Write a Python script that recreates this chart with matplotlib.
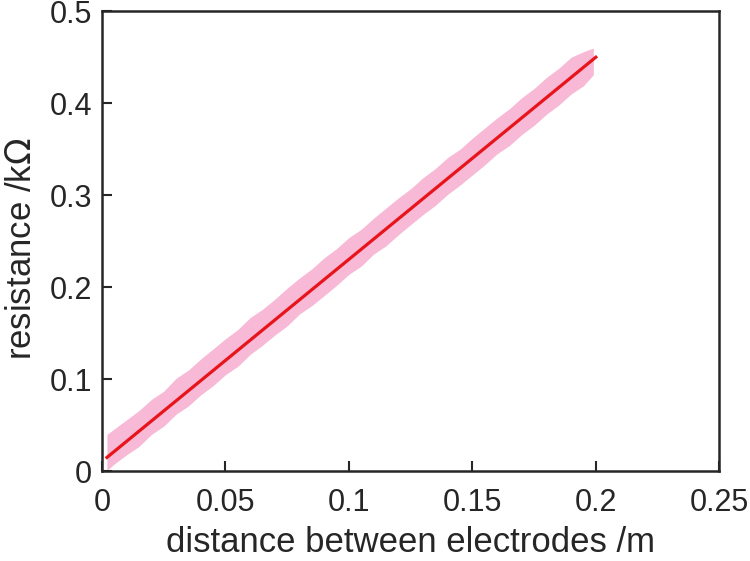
import numpy as np
import matplotlib.pyplot as plt

plt.rcParams['font.family'] = ['Liberation Sans', 'DejaVu Sans']
plt.rcParams['font.size'] = 22

band_x = [0.002, 0.005, 0.01, 0.015, 0.02, 0.025, 0.03, 0.035, 0.04, 0.045, 0.05,
          0.055, 0.06, 0.065, 0.07, 0.075, 0.08, 0.085, 0.09, 0.095, 0.10,
          0.105, 0.11, 0.115, 0.12, 0.125, 0.13, 0.135, 0.14, 0.145, 0.15,
          0.155, 0.16, 0.165, 0.17, 0.175, 0.18, 0.185, 0.19, 0.195, 0.199]
band_lo = [0.001, 0.008, 0.018, 0.027, 0.040, 0.049, 0.062, 0.071, 0.083, 0.093, 0.105,
           0.114, 0.127, 0.137, 0.148, 0.158, 0.171, 0.180, 0.191, 0.202, 0.214,
           0.223, 0.236, 0.245, 0.257, 0.268, 0.279, 0.289, 0.301, 0.311, 0.322,
           0.333, 0.345, 0.354, 0.366, 0.376, 0.388, 0.398, 0.410, 0.419, 0.431]
band_hi = [0.040, 0.046, 0.056, 0.066, 0.078, 0.087, 0.101, 0.110, 0.122, 0.133, 0.144,
           0.154, 0.167, 0.176, 0.187, 0.199, 0.210, 0.220, 0.232, 0.242, 0.254,
           0.263, 0.275, 0.286, 0.297, 0.307, 0.319, 0.329, 0.341, 0.350, 0.362,
           0.373, 0.384, 0.394, 0.406, 0.416, 0.428, 0.438, 0.450, 0.456, 0.460]

# linear fit
fit_x = [0.002, 0.2]
fit_y = [0.015, 0.450]

xticks = [0, 0.05, 0.1, 0.15, 0.2, 0.25]
xticklabels = ['0', '0.05', '0.1', '0.15', '0.2', '0.25']
yticks = [0, 0.1, 0.2, 0.3, 0.4, 0.5]
yticklabels = ['0', '0.1', '0.2', '0.3', '0.4', '0.5']

fig = plt.figure(figsize=(7.5, 5.61), dpi=100)
ax = fig.add_axes([0.136, 0.160, 0.823, 0.820])

ax.fill_between(band_x, band_lo, band_hi, color='#f7b9d5', lw=0)
ax.plot(fit_x, fit_y, color='#e8141b', lw=2.3)

ax.set_xlim(0, 0.25)
ax.set_ylim(0, 0.5)
ax.set_xticks(xticks)
ax.set_xticklabels(xticklabels)
ax.set_yticks(yticks)
ax.set_yticklabels(yticklabels)
ax.tick_params(direction='in', length=7, width=1.5, colors='#262626',
               labelcolor='#262626')
ax.tick_params(axis='x', pad=12)
ax.tick_params(axis='y', pad=7)
for s in ax.spines.values():
    s.set_linewidth(1.8)
    s.set_color('#262626')

ax.set_xlabel('distance between electrodes /m', color='#262626',
              fontsize=25, labelpad=6)
ax.set_ylabel('resistance /k$\\Omega$', color='#262626', fontsize=25)
ax.yaxis.set_label_coords(-0.104, 0.483)

fig.savefig('out.png', dpi=100)
